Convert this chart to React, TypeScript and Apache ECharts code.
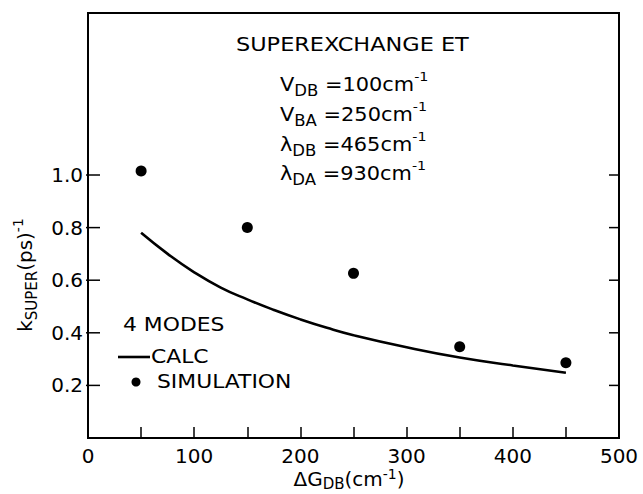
import React, { useEffect, useRef } from "react";
import * as echarts from "echarts";

const simX = [50, 150, 250, 350, 450];
const simY = [1.015, 0.8, 0.626, 0.347, 0.286];
const calcX = [50, 75, 100, 125, 150, 175, 200, 225, 250, 300, 350, 400, 450];
const calcY = [0.78, 0.7, 0.63, 0.572, 0.527, 0.487, 0.451, 0.419, 0.391, 0.345, 0.306, 0.276, 0.248];
const yTickValues = [0.2, 0.4, 0.6, 0.8, 1.0];
const xTickLabels = [0, 100, 200, 300, 400, 500];

const FONT = "DejaVu Sans";

export default function App() {
  const ref = useRef<HTMLDivElement>(null);
  useEffect(() => {
    if (!ref.current) return;
    const chart = echarts.init(ref.current, null, { renderer: "svg" });
    const rich = {
      m: { fontSize: 19, fontFamily: FONT, fill: "#000", lineHeight: 28, verticalAlign: "middle" },
      s: { fontSize: 15, fontFamily: FONT, fill: "#000", lineHeight: 14, verticalAlign: "bottom" },
      p: { fontSize: 13, fontFamily: FONT, fill: "#000", lineHeight: 14, verticalAlign: "top" },
    };
    const richBig = {
      m: { fontSize: 20, fontFamily: FONT, fill: "#000", lineHeight: 28, verticalAlign: "middle" },
      s: { fontSize: 15, fontFamily: FONT, fill: "#000", lineHeight: 14, verticalAlign: "bottom" },
      p: { fontSize: 14, fontFamily: FONT, fill: "#000", lineHeight: 14, verticalAlign: "top" },
    };
    const richX = {
      m: { fontSize: 20, fontFamily: FONT, fill: "#000", lineHeight: 24, verticalAlign: "middle" },
      s: { fontSize: 15, fontFamily: FONT, fill: "#000", lineHeight: 14, verticalAlign: "bottom" },
      p: { fontSize: 14, fontFamily: FONT, fill: "#000", lineHeight: 14, verticalAlign: "top" },
    };
    const paramLines = [
      "{m|V}{s|DB}{m| =100cm}{p|-1}",
      "{m|V}{s|BA}{m| =250cm}{p|-1}",
      "{m|λ}{s|DB}{m| =465cm}{p|-1}",
      "{m|λ}{s|DA}{m| =930cm}{p|-1}",
    ];
    const paramY = [84, 114, 144, 173];
    const plainText = (text: string, x: number, y: number, size = 19, sx = 1.15) => ({
      type: "text",
      x,
      y,
      scaleX: sx,
      style: { text, fontSize: size, fontFamily: FONT, fill: "#000", align: "left", verticalAlign: "middle" },
      z: 10,
    });
    const option: any = {
      animation: false,
      backgroundColor: "#fff",
      grid: {
        left: 88,
        right: 24,
        top: 13,
        bottom: 56,
        show: true,
        borderColor: "#000",
        borderWidth: 2,
        containLabel: false,
      },
      xAxis: {
        type: "value",
        min: 0,
        max: 500,
        interval: 50,
        axisLine: { show: true, lineStyle: { color: "#000", width: 2 } },
        axisTick: { show: true, inside: true, length: 11, lineStyle: { color: "#000", width: 1.5 } },
        splitLine: { show: false },
        axisLabel: {
          show: true,
          margin: 8,
          fontSize: 20,
          fontFamily: FONT,
          color: "#000",
          formatter: (v: number) => (xTickLabels.indexOf(v) >= 0 ? String(v) : ""),
        },
      },
      yAxis: {
        type: "value",
        min: 0,
        max: 1.616,
        interval: 0.2,
        axisLine: { show: true, lineStyle: { color: "#000", width: 2 } },
        axisTick: { show: false },
        splitLine: { show: false },
        axisLabel: {
          show: true,
          margin: 5,
          fontSize: 20,
          fontFamily: FONT,
          color: "#000",
          formatter: (v: number) => {
            const r = Math.round(v * 10) / 10;
            return yTickValues.some((t) => Math.abs(t - r) < 1e-6) && Math.abs(v - r) < 1e-6 ? r.toFixed(1) : "";
          },
        },
      },
      series: [
        {
          type: "line",
          data: calcX.map((x, i) => [x, calcY[i]]),
          smooth: true,
          showSymbol: false,
          lineStyle: { color: "#000", width: 2.6, opacity: 1 },
          z: 3,
        },
        {
          type: "scatter",
          data: simX.map((x, i) => [x, simY[i]]),
          symbol: "circle",
          symbolSize: 11,
          itemStyle: { color: "#000", opacity: 1 },
          z: 4,
        },
        {
          type: "custom",
          data: yTickValues.map((v) => [0, v]),
          encode: { x: 0, y: 1 },
          silent: true,
          clip: false,
          renderItem: (params: any, api: any) => {
            const v = api.value(1);
            const l = api.coord([0, v]);
            const r = api.coord([500, v]);
            return {
              type: "group",
              children: [
                { type: "line", shape: { x1: l[0] - 2, y1: l[1], x2: l[0] + 12, y2: l[1] }, style: { stroke: "#000", lineWidth: 1.5 } },
                { type: "line", shape: { x1: r[0] - 10, y1: r[1], x2: r[0], y2: r[1] }, style: { stroke: "#000", lineWidth: 1.5 } },
              ],
            };
          },
          z: 5,
        },
      ],
      graphic: [
        plainText("SUPEREXCHANGE ET", 236, 45, 19, 1.18),
        ...paramLines.map((t, i) => ({
          type: "text",
          x: 280,
          y: paramY[i],
          scaleX: 1.1,
          style: { text: t, rich, align: "left", verticalAlign: "middle", fill: "#000", fontFamily: FONT },
          z: 10,
        })),
        plainText("4 MODES", 123, 325, 19, 1.15),
        {
          type: "line",
          shape: { x1: 118, y1: 357, x2: 150, y2: 357 },
          style: { stroke: "#000", lineWidth: 2.6 },
          z: 10,
        },
        plainText("CALC", 151, 357, 19, 1.15),
        { type: "circle", shape: { cx: 136, cy: 382, r: 4.5 }, style: { fill: "#000" }, z: 10 },
        plainText("SIMULATION", 157, 382, 19, 1.15),
        {
          type: "text",
          x: 349,
          y: 479,
          style: {
            text: "{m|ΔG}{s|DB}{m|(cm}{p|-1}{m|)}",
            rich: richX,
            align: "center",
            verticalAlign: "middle",
            fill: "#000",
            fontFamily: FONT,
          },
          z: 10,
        },
        {
          type: "text",
          x: 25,
          y: 275,
          rotation: Math.PI / 2,
          style: {
            text: "{m|k}{s|SUPER}{m|(ps)}{p|-1}",
            rich: richBig,
            align: "center",
            verticalAlign: "middle",
            fill: "#000",
            fontFamily: FONT,
          },
          z: 10,
        },
      ],
    };
    chart.setOption(option);
    return () => chart.dispose();
  }, []);
  return (
    <div
      ref={ref}
      style={{ position: "fixed", left: 0, top: 0, width: 643, height: 494, background: "#fff" }}
    />
  );
}
